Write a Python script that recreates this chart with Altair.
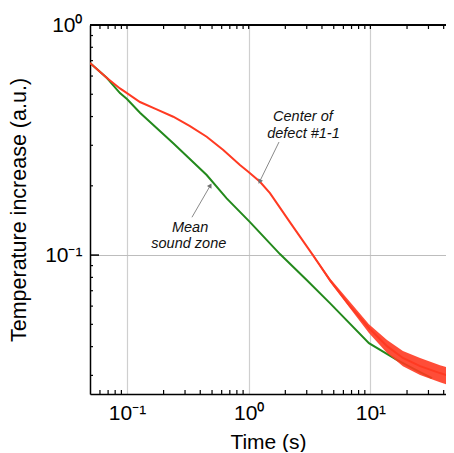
import altair as alt
import pandas as pd

# ---- data ----
red_t = [0.0497, 0.0685, 0.0876, 0.100, 0.1279, 0.1754, 0.240, 0.3294, 0.4518, 0.6184,
         0.848, 0.9924, 1.238, 1.496, 2.18, 3.37, 4.65, 6.80, 9.73, 13.7, 18.5, 25.6, 37.3, 47.7]
red_v = [0.684, 0.588, 0.530, 0.506, 0.4626, 0.430, 0.3993, 0.3638, 0.3268, 0.2861,
         0.2462, 0.2302, 0.2083, 0.186, 0.139, 0.100, 0.0778, 0.060, 0.0482, 0.0402,
         0.0357, 0.0329, 0.0307, 0.0295]

green_t = [0.0497, 0.0685, 0.0876, 0.100, 0.1279, 0.240, 0.4518, 0.6595, 1.025, 1.807,
           3.01, 4.65, 9.73, 16.5, 25.6, 32.1]
green_v = [0.684, 0.588, 0.506, 0.477, 0.4156, 0.3059, 0.2228, 0.1764, 0.139, 0.101,
           0.0778, 0.0618, 0.0414, 0.0350, 0.0310, 0.0292]

# noise envelope of the red curve at long times
band_t = [3.37, 4.65, 9.73, 13.7, 18.5, 25.6, 37.3, 47.7]
band_lo = [0.099, 0.0763, 0.0458, 0.0375, 0.0329, 0.0301, 0.0280, 0.0269]
band_hi = [0.101, 0.0794, 0.0501, 0.0427, 0.0383, 0.0357, 0.0332, 0.0319]

x_major = [0.1, 1, 10]
x_minor = [0.06, 0.07, 0.08, 0.09, 0.2, 0.3, 0.4, 0.5, 0.6, 0.7, 0.8, 0.9,
           2, 3, 4, 5, 6, 7, 8, 9, 20, 30, 40]
y_major = [0.1]
y_minor = [0.03, 0.04, 0.05, 0.06, 0.07, 0.08, 0.09, 0.2, 0.3, 0.4, 0.5, 0.6, 0.7, 0.8, 0.9]

note_text = ["Center of", "defect #1-1", "Mean", "sound zone"]
note_x = [2.79, 2.82, 0.330, 0.322]
note_y = [0.3825, 0.323, 0.1259, 0.1070]

arrow_x1 = [1.775, 0.342]
arrow_y1 = [0.310, 0.146]
arrow_x2 = [1.238, 0.481]
arrow_y2 = [0.210, 0.1995]
arrow_angle = [207, 30]

W, H = 356, 369
FONT = "Liberation Sans"

xs = alt.Scale(type="log", domain=[0.0497, 41.8], nice=False)
ys = alt.Scale(type="log", domain=[0.0249, 1.0], nice=False)

red_df = pd.DataFrame({"t": red_t, "v": red_v})
green_df = pd.DataFrame({"t": green_t, "v": green_v})
band_df = pd.DataFrame({"t": band_t, "lo": band_lo, "hi": band_hi})
xmaj_df = pd.DataFrame({"t": x_major})
xmin_df = pd.DataFrame({"t": x_minor})
ymaj_df = pd.DataFrame({"v": y_major})
ymin_df = pd.DataFrame({"v": y_minor})
note_df = pd.DataFrame({"text": note_text, "t": note_x, "v": note_y})
arrow_df = pd.DataFrame({"t1": arrow_x1, "v1": arrow_y1, "t2": arrow_x2, "v2": arrow_y2,
                         "ang": arrow_angle})

x_axis = alt.Axis(values=x_major,
                  labelExpr="datum.value < 0.5 ? '10⁻¹' : (datum.value < 5 ? '10⁰' : '10¹')",
                  labelFont=FONT, labelFontSize=21, labelColor="black", labelPadding=8,
                  ticks=False, domainColor="black", domainWidth=1.5,
                  grid=True, gridColor="#cfcfcf", gridWidth=1.2,
                  title="Time (s)", titleFont=FONT, titleFontSize=21,
                  titleFontWeight="normal", titleColor="black", titlePadding=8)
y_axis = alt.Axis(values=[0.1, 1.0],
                  labelExpr="datum.value < 0.5 ? '10⁻¹' : '10⁰'",
                  labelFont=FONT, labelFontSize=21, labelColor="black", labelPadding=8,
                  ticks=False, domainColor="black", domainWidth=1.5,
                  grid=True, gridColor="#bdbdbd", gridWidth=1.2,
                  title="Temperature increase (a.u.)", titleFont=FONT, titleFontSize=21.5,
                  titleFontWeight="normal", titleColor="black", titlePadding=14)

base_green = alt.Chart(green_df).mark_line(color="#23891c", strokeWidth=2, clip=True).encode(
    x=alt.X("t:Q", scale=xs, axis=x_axis),
    y=alt.Y("v:Q", scale=ys, axis=y_axis),
)
red_band = alt.Chart(band_df).mark_area(color="#ff3a22", opacity=0.9, clip=True).encode(
    x=alt.X("t:Q", scale=xs), y=alt.Y("lo:Q", scale=ys), y2="hi:Q")
red_line = alt.Chart(red_df).mark_line(color="#ff3a22", strokeWidth=2, clip=True).encode(
    x=alt.X("t:Q", scale=xs), y=alt.Y("v:Q", scale=ys))

# inward ticks
bot_ticks = alt.Chart(xmin_df).mark_rule(color="black", strokeWidth=1.2).encode(
    x=alt.X("t:Q", scale=xs), y=alt.value(H), y2=alt.value(H - 4))
top_ticks = alt.Chart(pd.concat([xmin_df, xmaj_df])).mark_rule(color="black", strokeWidth=1.2).encode(
    x=alt.X("t:Q", scale=xs), y=alt.value(0), y2=alt.value(4))
left_minor = alt.Chart(ymin_df).mark_rule(color="black", strokeWidth=1.2).encode(
    y=alt.Y("v:Q", scale=ys), x=alt.value(0), x2=alt.value(3))
left_major = alt.Chart(ymaj_df).mark_rule(color="black", strokeWidth=1.5).encode(
    y=alt.Y("v:Q", scale=ys), x=alt.value(0), x2=alt.value(9))
top_line = alt.Chart(xmaj_df).mark_rule(color="black", strokeWidth=1.5).encode(
    x=alt.value(0), x2=alt.value(W), y=alt.value(0))

notes = alt.Chart(note_df).mark_text(font=FONT, fontSize=14.5, fontStyle="italic",
                                     color="#111111", align="center", baseline="alphabetic").encode(
    x=alt.X("t:Q", scale=xs), y=alt.Y("v:Q", scale=ys), text="text:N")
arrows = alt.Chart(arrow_df).mark_rule(color="#8a8a8a", strokeWidth=1).encode(
    x=alt.X("t1:Q", scale=xs), y=alt.Y("v1:Q", scale=ys), x2="t2:Q", y2="v2:Q")
heads = alt.Chart(arrow_df).mark_point(shape="triangle", filled=True, color="#707070",
                                       size=28, opacity=1).encode(
    x=alt.X("t2:Q", scale=xs), y=alt.Y("v2:Q", scale=ys),
    angle=alt.Angle("ang:Q", scale=None))

chart = alt.layer(
    base_green, red_band, red_line, bot_ticks, top_ticks, left_minor, left_major,
    top_line, notes, arrows, heads
).properties(
    width=W, height=H,
    autosize=alt.AutoSizeParams(type="none"),
    padding={"left": 82, "top": 17, "right": 0, "bottom": 58},
).configure_view(stroke=None).configure(background="white")

chart.save("out.html", embed_options={"renderer": "svg", "actions": False})
